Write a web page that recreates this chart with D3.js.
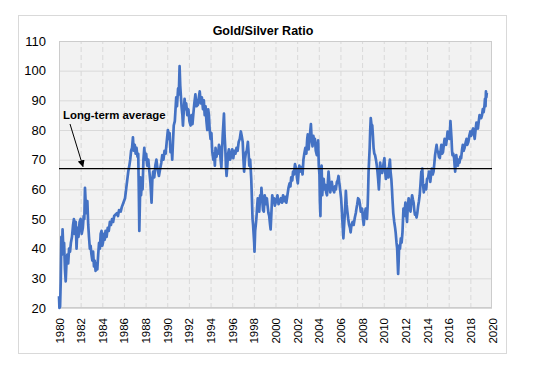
<!DOCTYPE html>
<html>
<head>
<meta charset="utf-8">
<title>Gold/Silver Ratio</title>
<style>
body { margin: 0; background: #fff; }
text { font-family: "Liberation Sans", Arial, sans-serif; fill: #000; }
.grid line { stroke: #d9d9d9; stroke-width: 1px; }
.vgrid line { stroke-dasharray: 5,3; }
.domain { display: none; }
</style>
</head>
<body>
<script src="https://cdn.jsdelivr.net/npm/d3@7"></script>
<script>

// values (decimal year, gold/silver ratio)
var years = [
  1980.00,1980.04,1980.10,1980.16,1980.22,1980.27,1980.33,1980.40,1980.47,1980.55,1980.62,1980.70,1980.77,1980.85,1980.93,
  1981.02,1981.10,1981.20,1981.30,1981.38,1981.45,1981.55,1981.62,1981.70,1981.80,1981.90,
  1982.00,1982.10,1982.20,1982.28,1982.34,1982.40,1982.47,1982.55,1982.62,1982.70,1982.77,1982.85,1982.92,
  1983.00,1983.08,1983.15,1983.23,1983.30,1983.38,1983.46,1983.54,1983.62,1983.70,1983.78,1983.85,1983.93,
  1984.00,1984.06,1984.15,1984.22,1984.30,1984.40,1984.50,1984.60,1984.70,1984.80,1984.90,
  1985.00,1985.10,1985.23,1985.35,1985.45,1985.55,1985.70,1985.80,1985.90,
  1986.00,1986.10,1986.20,1986.30,1986.40,1986.50,1986.58,1986.66,1986.75,1986.83,1986.90,
  1987.00,1987.08,1987.16,1987.25,1987.32,1987.37,1987.42,1987.47,1987.52,1987.58,1987.65,1987.72,1987.80,1987.88,1987.95,
  1988.05,1988.15,1988.25,1988.35,1988.45,1988.55,1988.62,1988.70,1988.80,1988.90,
  1989.00,1989.10,1989.23,1989.35,1989.45,1989.54,1989.65,1989.75,1989.85,1989.95,
  1990.06,1990.15,1990.22,1990.30,1990.40,1990.46,1990.53,1990.60,1990.70,1990.78,1990.83,1990.90,
  1991.00,1991.07,1991.14,1991.20,1991.25,1991.32,1991.40,1991.45,1991.52,1991.60,1991.68,1991.75,1991.85,1991.95,
  1992.05,1992.15,1992.25,1992.33,1992.40,1992.50,1992.60,1992.70,1992.83,1992.92,
  1993.00,1993.10,1993.20,1993.30,1993.38,1993.46,1993.54,1993.62,1993.70,1993.78,1993.85,1993.92,
  1994.00,1994.08,1994.15,1994.25,1994.33,1994.40,1994.46,1994.55,1994.63,1994.70,1994.78,1994.86,1994.93,
  1995.00,1995.05,1995.12,1995.20,1995.24,1995.30,1995.36,1995.42,1995.48,1995.55,1995.62,1995.70,1995.80,1995.90,
  1996.00,1996.10,1996.20,1996.30,1996.40,1996.50,1996.60,1996.70,1996.80,1996.88,1996.97,
  1997.04,1997.10,1997.18,1997.27,1997.35,1997.45,1997.52,1997.58,1997.66,1997.76,1997.82,1997.88,1997.93,1997.98,
  1998.03,1998.06,1998.12,1998.18,1998.25,1998.30,1998.36,1998.43,1998.50,1998.58,1998.65,1998.70,1998.78,1998.85,1998.92,
  1999.00,1999.10,1999.20,1999.27,1999.35,1999.42,1999.50,1999.55,1999.62,1999.70,1999.78,1999.86,1999.94,
  2000.05,2000.18,2000.28,2000.40,2000.50,2000.60,2000.70,2000.80,2000.90,
  2001.00,2001.10,2001.20,2001.30,2001.38,2001.45,2001.55,2001.62,2001.70,2001.80,2001.90,2001.98,
  2002.06,2002.14,2002.20,2002.30,2002.40,2002.50,2002.58,2002.66,2002.76,2002.85,2002.93,2002.98,
  2003.06,2003.15,2003.22,2003.27,2003.34,2003.42,2003.50,2003.58,2003.64,2003.72,2003.82,2003.88,2003.94,
  2004.00,2004.06,2004.10,2004.15,2004.20,2004.26,2004.32,2004.38,2004.45,2004.52,2004.60,2004.68,2004.76,2004.83,2004.90,2004.98,
  2005.06,2005.13,2005.20,2005.30,2005.42,2005.50,2005.58,2005.67,2005.75,2005.82,2005.90,
  2006.00,2006.06,2006.12,2006.20,2006.27,2006.34,2006.40,2006.46,2006.50,2006.57,2006.64,2006.72,2006.80,2006.88,2006.94,
  2007.02,2007.12,2007.22,2007.33,2007.42,2007.50,2007.55,2007.63,2007.73,2007.80,2007.88,
  2008.00,2008.08,2008.15,2008.22,2008.33,2008.40,2008.45,2008.52,2008.56,2008.60,2008.65,2008.70,2008.75,2008.80,2008.86,2008.94,
  2009.00,2009.06,2009.13,2009.20,2009.28,2009.36,2009.42,2009.48,2009.55,2009.62,2009.67,2009.75,2009.85,2009.95,
  2010.06,2010.13,2010.20,2010.28,2010.36,2010.43,2010.50,2010.57,2010.63,2010.70,2010.76,2010.80,2010.88,2010.97,
  2011.05,2011.10,2011.18,2011.24,2011.28,2011.33,2011.38,2011.42,2011.50,2011.58,2011.65,2011.73,2011.78,2011.82,2011.90,
  2012.00,2012.08,2012.15,2012.22,2012.30,2012.38,2012.47,2012.55,2012.62,2012.70,2012.76,2012.82,2012.88,2012.96,
  2013.03,2013.10,2013.18,2013.25,2013.32,2013.40,2013.47,2013.52,2013.56,2013.62,2013.70,2013.78,2013.85,2013.92,
  2014.00,2014.10,2014.18,2014.25,2014.30,2014.37,2014.44,2014.52,2014.60,2014.68,2014.74,2014.80,2014.88,2014.95,
  2015.03,2015.10,2015.18,2015.25,2015.32,2015.40,2015.47,2015.55,2015.62,2015.70,2015.76,2015.83,2015.90,2015.98,
  2016.06,2016.12,2016.16,2016.21,2016.26,2016.31,2016.35,2016.42,2016.50,2016.55,2016.60,2016.65,2016.70,2016.78,2016.85,2016.92,
  2017.00,2017.08,2017.15,2017.22,2017.30,2017.38,2017.47,2017.55,2017.65,2017.72,2017.82,2017.90,
  2018.00,2018.06,2018.12,2018.20,2018.26,2018.33,2018.40,2018.48,2018.56,2018.63,2018.70,2018.78,2018.85,2018.92,
  2019.00,2019.08,2019.15,2019.23,2019.30,2019.35,2019.40,2019.44,2019.48,2019.52
];

var ratio = [
  24,20,20.5,29,44,38,46.5,40,42,33,29,36,38,35,40,
  39,42,44,48,50,45,49,40,47,44,49,
  50,45,47,51,50,60.5,55,52,56,48,44,40,41,
  38,36,39,34,36,32.5,35,33,38,42,40,45,46,
  41,42,45,43,46,44,47,46,49,48,50,
  49,51,51.5,52,51,53,52.5,54,55,
  56,57,60,63,66,68,70,73,74,77.5,73,
  75,72,74,71,72,60,46,55,64,58,62,60,70,74,70,
  72,68,70,66,62,55.5,63,66,64,68,
  70,67,64.5,67,69,71.5,70,73,72,76,
  80,77,79,72.5,74,70,76,81.5,83,88,91,88,
  94,92,101.5,95,92,88,85,81.5,86,90.5,87,89,85,87,
  83,81.5,85,82,85,89,92,88,88.5,91,
  93,89,91,87,90,85,88,83,80,87,85,80,
  77,79,73,70,72,68,74,71,73,72,75,74,70,
  67.5,72,78,83,85.5,78,74,68,64.5,68,72,73.5,70,71,
  73.5,70.5,73,72,74,73,76,77,79.5,78,76,
  70,66,70,72.5,73,76,72,68,70,63.5,57,50,48,45,
  42,39,46,48,51,54,57,55,52.5,58,56,60.5,56,53,52.5,
  58,55,57,54.5,52,51,48,46.5,52,58,56,57,54.5,
  56,58,55,56,57,55.5,58,56,57.5,
  55.5,58,60.5,62,61,64,63,66,65,68.5,67,64,
  62,66,68,66,67.5,65,70,72,74,72,77,78.5,
  73.5,77,80,82,77,74.5,78,76,77,73,71.5,75,76.5,
  68,65,56,51,66,68,58,62,63.5,60,61.5,59,58,62,66,62,
  59,61,62.5,60,59,61,60,62.5,63,64.5,62,
  59,57,53.5,48,43.5,48,51.5,56,59.5,55,52.5,50,48,47,45.5,
  48,49,48,50.5,52,54,55,57,56.5,55,52.5,
  53.5,50,48,51,53.5,52,50,55,60,66,70,74,80,84,82,81.5,
  78,74,72,71.5,70,68,66,63.5,60,65,69,66,65.5,68,
  70.5,66,63.5,65,67,64,68,70,66,63.5,60,57,52,49,
  47,45.5,42,40,36,31.5,36,41,40,43.5,42,45.5,50,53.5,51,
  55.5,52,49,54,57,54,52.5,56,58,56.5,55.5,53,51.5,52,
  50.5,52,54.5,56,58,62,66,64,67,62,59,61,61.5,60,
  63.5,64,66,64,62.5,65,67,65,66,69,71.5,73,75,73,
  72.5,71,70.5,73,75,72,72.5,75,77,75.5,75,77,79.5,78,
  77,80,83,80,77,73,71.5,72,70.5,68,66,69,71.5,69,68,70,
  69,71,70.5,73,75,73,74,75.5,77,75,76,78,
  79.5,78,78.5,80,80.5,79,77,80,82.5,81,80.5,83,85,84,
  84,85,87,86,88,90.5,88,93,91,92.5
];

var longTermAverage = 67;
var yTicks = [20, 30, 40, 50, 60, 70, 80, 90, 100, 110];
var xTicks = d3.range(1980, 2021, 2);

var data = years.map(function(d, i) { return {year: d, value: ratio[i]}; });

var width = 535,
    height = 381;
var plot = {left: 59, right: 492, top: 41, bottom: 308};

var svg = d3.select("body").append("svg")
    .attr("width", width)
    .attr("height", height);

// chart frame
svg.append("rect")
    .attr("x", 18.5).attr("y", 15.5)
    .attr("width", 488).attr("height", 338)
    .attr("fill", "#fff")
    .attr("stroke", "#d9d9d9");

var x = d3.scaleLinear().domain([1980, 2020]).range([plot.left, plot.right]);
var y = d3.scaleLinear().domain([20, 110]).range([plot.bottom, plot.top]);

// plot background
svg.append("rect")
    .attr("x", plot.left).attr("y", plot.top)
    .attr("width", plot.right - plot.left)
    .attr("height", plot.bottom - plot.top)
    .attr("fill", "#f2f2f2");

// horizontal grid
svg.append("g")
    .attr("class", "grid")
    .attr("transform", "translate(" + plot.left + ",0)")
    .call(d3.axisLeft(y).tickValues(yTicks).tickSize(-(plot.right - plot.left)).tickFormat(""));

// vertical dashed grid
svg.append("g")
    .attr("class", "grid vgrid")
    .attr("transform", "translate(0," + plot.bottom + ")")
    .call(d3.axisBottom(x).tickValues(xTicks.slice(1, -1)).tickSize(-(plot.bottom - plot.top)).tickFormat(""));

// plot border
svg.append("rect")
    .attr("x", plot.left + 0.5).attr("y", plot.top + 0.5)
    .attr("width", plot.right - plot.left - 1)
    .attr("height", plot.bottom - plot.top - 1)
    .attr("fill", "none")
    .attr("stroke", "#cccccc");

// the series
var line = d3.line()
    .x(function(d) { return x(d.year); })
    .y(function(d) { return y(d.value); });

svg.append("path")
    .datum(data)
    .attr("d", line)
    .attr("fill", "none")
    .attr("stroke", "#4472c4")
    .attr("stroke-width", 2.7)
    .attr("stroke-linejoin", "round");

// long-term average line
svg.append("line")
    .attr("x1", x(1980)).attr("x2", x(2020))
    .attr("y1", y(longTermAverage)).attr("y2", y(longTermAverage))
    .attr("stroke", "#000")
    .attr("stroke-width", 1.2);

// y axis labels
var yAxis = svg.append("g")
    .attr("transform", "translate(" + plot.left + ",0)")
    .call(d3.axisLeft(y).tickValues(yTicks).tickSize(0).tickPadding(13));
yAxis.selectAll("text")
    .style("font-size", "13px")
    .style("font-family", "'Liberation Sans', Arial, sans-serif");

// x axis labels, rotated
var xAxis = svg.append("g")
    .attr("transform", "translate(0," + plot.bottom + ")")
    .call(d3.axisBottom(x).tickValues(xTicks).tickSize(0).tickFormat(d3.format("d")));
xAxis.selectAll("text")
    .style("font-size", "11.5px")
    .style("font-family", "'Liberation Sans', Arial, sans-serif")
    .attr("text-anchor", "end")
    .attr("transform", "rotate(-90)")
    .attr("x", -10)
    .attr("y", 0)
    .attr("dy", "0.35em");

// title
svg.append("text")
    .attr("x", 263)
    .attr("y", 35)
    .attr("text-anchor", "middle")
    .style("font-weight", "bold")
    .style("font-size", "12.5px")
    .text("Gold/Silver Ratio");

// annotation with arrow
svg.append("defs").append("marker")
    .attr("id", "arrow")
    .attr("viewBox", "0 0 10 10")
    .attr("refX", 9).attr("refY", 5)
    .attr("markerWidth", 7).attr("markerHeight", 7)
    .attr("orient", "auto")
    .append("path")
    .attr("d", "M0,0L10,5L0,10z")
    .attr("fill", "#000");

svg.append("text")
    .attr("x", 63)
    .attr("y", 119)
    .style("font-weight", "bold")
    .style("font-size", "11.4px")
    .text("Long-term average");

svg.append("line")
    .attr("x1", 70).attr("y1", 124)
    .attr("x2", 83).attr("y2", y(longTermAverage) - 2)
    .attr("stroke", "#000")
    .attr("stroke-width", 1)
    .attr("marker-end", "url(#arrow)");

</script>
</body>
</html>
